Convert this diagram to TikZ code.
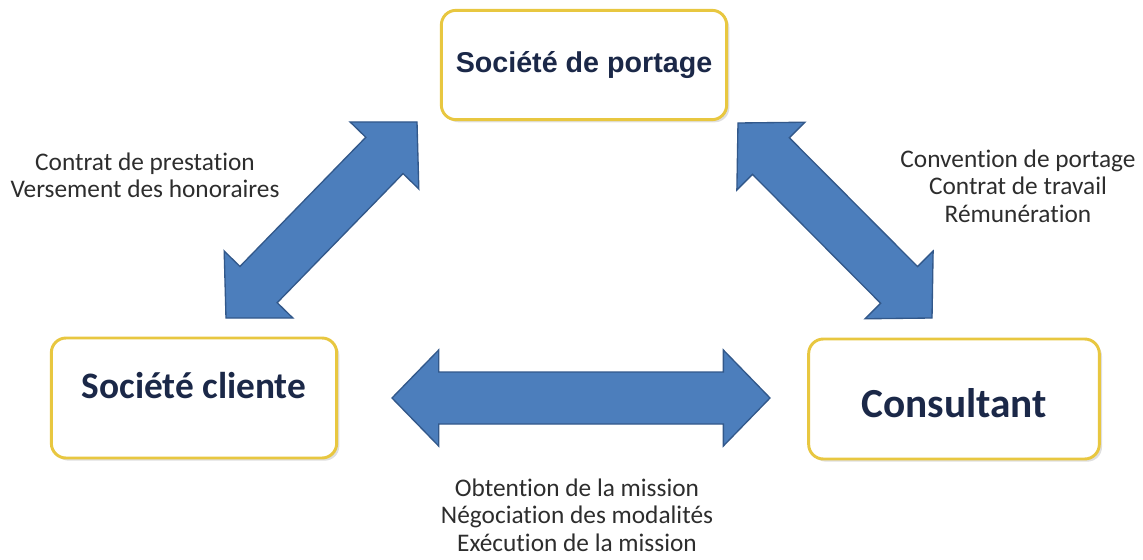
\documentclass[tikz,border=0pt]{standalone}
\usepackage{fontspec}
\setmainfont{Carlito}[Ligatures=NoCommon]
\newfontfamily\boxfont{Liberation Sans}
\usetikzlibrary{calc,shadows}

\definecolor{boxgold}{RGB}{232,199,64}
\definecolor{boxtext}{RGB}{27,40,72}
\definecolor{arrowblue}{RGB}{76,126,188}
\definecolor{arrowedge}{RGB}{50,88,138}
\definecolor{labelgray}{RGB}{45,45,45}

\newcommand{\headlen}{35pt}
\newcommand{\headwd}{36pt}
\newcommand{\shaftwd}{19.5pt}

\tikzset{
  partner/.style={draw=boxgold, line width=2.2pt, rounded corners=11pt, fill=white,
    drop shadow={shadow xshift=2pt, shadow yshift=-2pt, opacity=0.25},
    minimum width=214pt, minimum height=90pt, text=boxtext},
  flow/.style={text=labelgray, align=center, font=\fontsize{19}{20.5}\selectfont},
  blockarrow/.style={fill=arrowblue, draw=arrowedge, line width=1pt,
    to path={
      -- ($(\tikztostart)!\headlen!(\tikztotarget)!\headwd!90:(\tikztotarget)$)
      -- ($(\tikztostart)!\headlen!(\tikztotarget)!\shaftwd!90:(\tikztotarget)$)
      -- ($(\tikztotarget)!\headlen!(\tikztostart)!\shaftwd!-90:(\tikztostart)$)
      -- ($(\tikztotarget)!\headlen!(\tikztostart)!\headwd!-90:(\tikztostart)$)
      -- (\tikztotarget)
      -- ($(\tikztotarget)!\headlen!(\tikztostart)!\headwd!90:(\tikztostart)$)
      -- ($(\tikztotarget)!\headlen!(\tikztostart)!\shaftwd!90:(\tikztostart)$)
      -- ($(\tikztostart)!\headlen!(\tikztotarget)!\shaftwd!-90:(\tikztotarget)$)
      -- ($(\tikztostart)!\headlen!(\tikztotarget)!\headwd!-90:(\tikztotarget)$)
      -- cycle}}
}

\begin{document}
\begin{tikzpicture}[x=0.75pt, y=-0.75pt]
\useasboundingbox (0,0) rectangle (1143,560);

\node[partner, minimum height=82pt] (portage) at (584,65)
  {\boxfont\bfseries\fontsize{21.5}{24}\selectfont Société de portage};
\node[partner] (cliente) at (194,398)
  {\bfseries\fontsize{28}{30}\selectfont\raisebox{9pt}[\height][\depth]{Société cliente}};
\node[partner, minimum width=218pt] (consultant) at (954,399)
  {\bfseries\fontsize{31}{33}\selectfont\raisebox{-3pt}[\height][\depth]{Consultant}};

% arrow ends
\coordinate (cl0) at (226,318);
\coordinate (cl1) at (417,122);
\coordinate (co0) at (738,123);
\coordinate (co1) at (932,318);
\coordinate (cc0) at (392,398);
\coordinate (cc1) at (770,398);

\path
(cl0) edge[blockarrow] (cl1)
(co0) edge[blockarrow] (co1)
(cc0) edge[blockarrow] (cc1)
;

\node[flow] (cl-text) at (145,175) {Contrat de prestation\\Versement des honoraires};
\node[flow] (co-text) at (1018,186) {Convention de portage\\Contrat de travail\\Rémunération};
\node[flow] (cc-text) at (577,515) {Obtention de la mission\\Négociation des modalités\\Exécution de la mission};

\end{tikzpicture}
\end{document}
